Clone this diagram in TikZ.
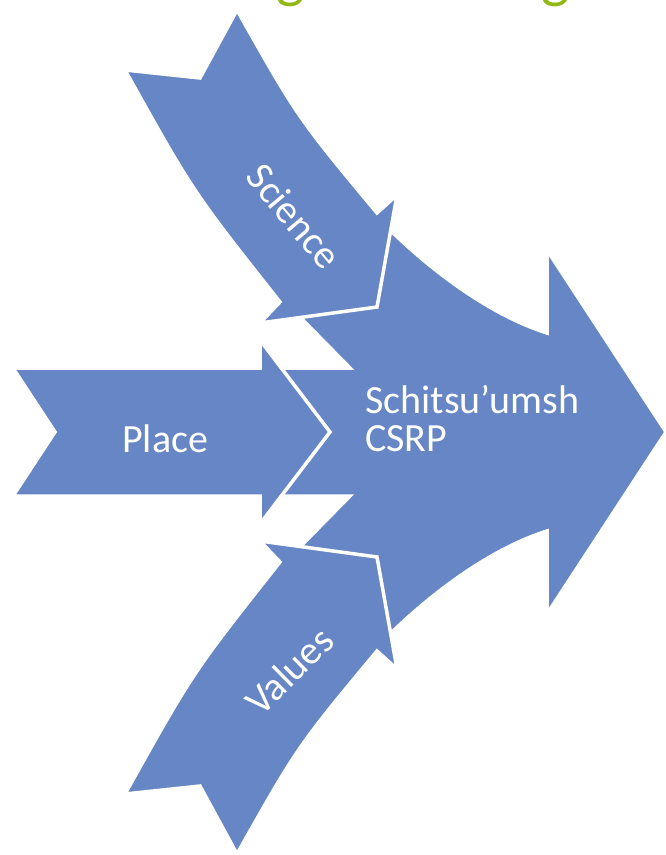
\documentclass[tikz,border=0pt]{standalone}
\usepackage{fontspec}
\setmainfont{Carlito}
\definecolor{arrowblue}{RGB}{103,134,197}
\definecolor{titlegreen}{RGB}{146,184,20}
\begin{document}
\begin{tikzpicture}[x=1pt,y=-1pt,
  arrowshape/.style={fill=arrowblue, draw=white, line width=3.5pt, line join=miter},
  lbl/.style={text=white, font=\fontsize{40}{40}\selectfont, inner sep=0pt}]
\useasboundingbox (0,0) rectangle (666,855);
\fill[white] (0,0) rectangle (666,855);
% cut-off title descenders
\begin{scope}
\clip (0,0) rectangle (666,855);
\node[text=titlegreen, font=\fontsize{60}{60}\selectfont, anchor=base, inner sep=0pt] (g1) at (291,-4) {g};
\node[text=titlegreen, font=\fontsize{60}{60}\selectfont, anchor=base, inner sep=0pt] (g2) at (556,-4) {g};
\end{scope}
% big arrow
\path[arrowshape] (666,432) -- (547,250) -- (547,333)
  .. controls (490,315) and (430,270) .. (385,225) -- (291,308) -- (350,368)
  -- (275,368) -- (275,496) -- (350,496) -- (291,556) -- (385,639)
  .. controls (430,594) and (490,549) .. (547,531) -- (547,614) -- cycle;
% place arrow
\path[arrowshape] (13,368) -- (260,368) -- (260,340) -- (330,432) -- (260,524)
  -- (260,496) -- (13,496) -- (55,432) -- cycle;
% science arrow
\path[arrowshape] (125,70) -- (200,78) -- (237,10) .. controls (298,118) .. (377,213)
  -- (397,195) -- (377,307) -- (260,323) -- (280,302) .. controls (193,192) .. cycle;
% values arrow
\path[arrowshape] (125,794) -- (200,786) -- (237,854) .. controls (298,746) .. (377,651)
  -- (397,669) -- (377,557) -- (260,541) -- (280,562) .. controls (193,672) .. cycle;
% labels
\node[lbl, anchor=base west] (place) at (122,452) {Place};
\node[lbl, anchor=base west] (csrp1) at (365,413) {Schitsu’umsh};
\node[lbl, anchor=base west] (csrp2) at (365,451) {CSRP};
\node[lbl, rotate=-50] (science) at (294,216) {Science};
\node[lbl, rotate=44.5] (values) at (289,671) {Values};
\end{tikzpicture}
\end{document}
